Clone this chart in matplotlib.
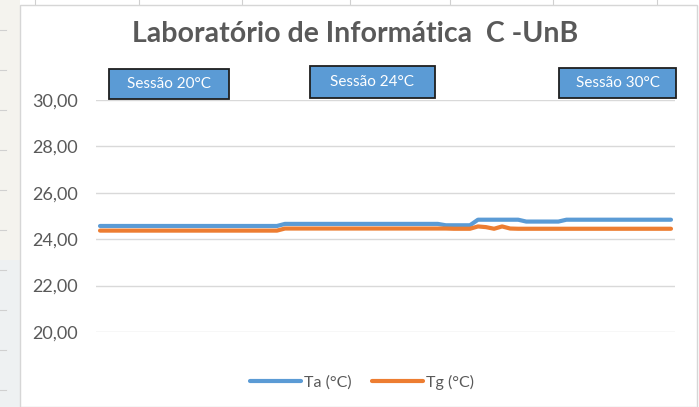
import matplotlib.pyplot as plt
from matplotlib.patches import Rectangle
from matplotlib.lines import Line2D

plt.rcParams['font.family'] = ['Lato', 'DejaVu Sans']

# readings over the three sessions (one point per sample)
ta = [24.57, 24.57, 24.57, 24.57, 24.57, 24.57, 24.57, 24.57, 24.57, 24.57,
      24.57, 24.57, 24.57, 24.57, 24.57, 24.57, 24.57, 24.57, 24.57, 24.57,
      24.57, 24.57, 24.57, 24.66, 24.66, 24.66, 24.66, 24.66, 24.66, 24.66,
      24.66, 24.66, 24.66, 24.66, 24.66, 24.66, 24.66, 24.66, 24.66, 24.66,
      24.66, 24.66, 24.66, 24.60, 24.60, 24.60, 24.60, 24.84, 24.84, 24.84,
      24.84, 24.84, 24.84, 24.76, 24.76, 24.76, 24.76, 24.76, 24.84, 24.84,
      24.84, 24.84, 24.84, 24.84, 24.84, 24.84, 24.84, 24.84, 24.84, 24.84,
      24.84, 24.84]
tg = [24.37, 24.37, 24.37, 24.37, 24.37, 24.37, 24.37, 24.37, 24.37, 24.37,
      24.37, 24.37, 24.37, 24.37, 24.37, 24.37, 24.37, 24.37, 24.37, 24.37,
      24.37, 24.37, 24.37, 24.46, 24.46, 24.46, 24.46, 24.46, 24.46, 24.46,
      24.46, 24.46, 24.46, 24.46, 24.46, 24.46, 24.46, 24.46, 24.46, 24.46,
      24.46, 24.46, 24.46, 24.46, 24.45, 24.45, 24.45, 24.55, 24.52, 24.45,
      24.55, 24.46, 24.45, 24.45, 24.45, 24.45, 24.45, 24.45, 24.45, 24.45,
      24.45, 24.45, 24.45, 24.45, 24.45, 24.45, 24.45, 24.45, 24.45, 24.45,
      24.45, 24.45]
yticks = [20, 22, 24, 26, 28, 30]
series_names = ['Ta (°C)', 'Tg (°C)']
sessions = ['Sessão 20°C', 'Sessão 24°C', 'Sessão 30°C']

W, H = 699, 407
fig = plt.figure(figsize=(W / 100, H / 100), dpi=100)
fig.patch.set_facecolor('white')

def fx(px):
    return px / W

def fy(py):
    return 1 - py / H

# spreadsheet behind the chart
fig.patches.append(Rectangle((0, 0), fx(20), 1, transform=fig.transFigure,
                             facecolor='#f4f3ee', edgecolor='none', zorder=-3))
fig.patches.append(Rectangle((0, 0), fx(20), fy(260), transform=fig.transFigure,
                             facecolor='#eef1f2', edgecolor='none', zorder=-3))
for py in [30, 70, 110, 150, 190, 230, 270, 310, 350, 390]:
    fig.add_artist(Line2D([0, fx(6)], [fy(py), fy(py)], color='#d0d0d0', lw=0.8, zorder=-2))
for px in [35, 139, 242, 350, 450, 553, 657]:
    fig.add_artist(Line2D([fx(px), fx(px)], [1, fy(5)], color='#d0d0d0', lw=0.8, zorder=-2))
fig.patches.append(Rectangle((fx(20), 0), fx(677), fy(5), transform=fig.transFigure,
                             facecolor='white', edgecolor='#d6d6d6', lw=1.0, zorder=-1))

ax = fig.add_axes([fx(96), fy(332), fx(675 - 96), fy(100) - fy(332)])
ax.set_facecolor('none')
x = list(range(len(ta)))
ax.plot(x, ta, color='#5b9bd5', lw=3, solid_capstyle='round', label=series_names[0], zorder=3)
ax.plot(x, tg, color='#ed7d31', lw=3, solid_capstyle='round', label=series_names[1], zorder=3)
ax.set_xlim(-0.5, len(ta) - 0.5)
ax.set_ylim(20, 30)
ax.set_yticks(yticks)
ax.set_yticklabels(['%d,00' % v for v in yticks])
ax.set_xticks([])
ax.grid(axis='y', color='#d9d9d9', lw=1)
ax.tick_params(axis='y', length=0, pad=13, labelsize=13, labelcolor='#595959')
for s in ax.spines.values():
    s.set_visible(False)

fig.text(fx(355), fy(34), 'Laboratório de Informática  C -UnB', ha='center', va='center',
         fontsize=20.5, fontweight='bold', color='#595959')

boxes = [(109, 69, 120, 30), (310, 66, 125, 32), (559, 68, 117, 30)]
for label, (bx, by, bw, bh) in zip(sessions, boxes):
    fig.patches.append(Rectangle((fx(bx), fy(by + bh)), fx(bw), bh / H,
                                 transform=fig.transFigure, facecolor='#5b9bd5',
                                 edgecolor='#1f1f1f', lw=1.3, zorder=5))
    fig.text(fx(bx + bw / 2), fy(by + bh / 2), label, ha='center', va='center',
             fontsize=11, color='white', zorder=6)

fig.legend(loc='center', bbox_to_anchor=(fx(362), fy(382)), ncol=2, frameon=False,
           fontsize=11.5, labelcolor='#595959', handlelength=3.2, handletextpad=0.2,
           columnspacing=1.3)

fig.savefig('out.png', dpi=100)
